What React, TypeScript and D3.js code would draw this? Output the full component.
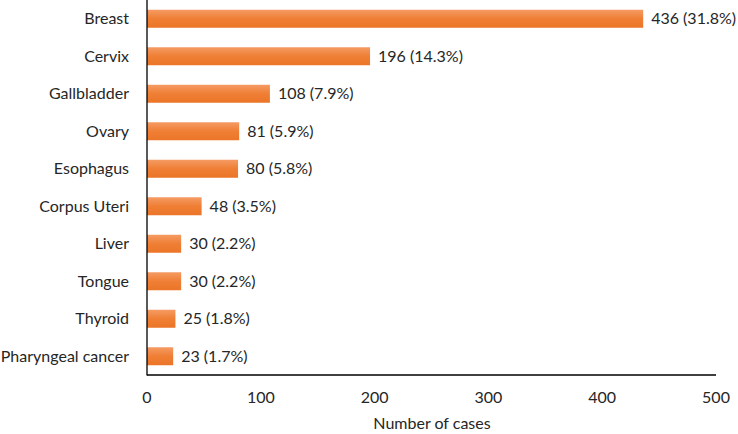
import React from "react";
import * as d3 from "d3";

const categories = ["Breast", "Cervix", "Gallbladder", "Ovary", "Esophagus", "Corpus Uteri", "Liver", "Tongue", "Thyroid", "Pharyngeal cancer"];
const cases = [436, 196, 108, 81, 80, 48, 30, 30, 25, 23];
const percents = ["31.8%", "14.3%", "7.9%", "5.9%", "5.8%", "3.5%", "2.2%", "2.2%", "1.8%", "1.7%"];
const xTicks = [0, 100, 200, 300, 400, 500];

const W = 738;
const H = 434;
const FONT = "Lato, 'Open Sans', sans-serif";
const FS = 16;

export default function App() {
  const x = d3.scaleLinear().domain([0, 500]).range([147, 716]);
  const y = d3.scaleBand<string>().domain(categories).range([0, 375]).paddingInner(0.52).paddingOuter(0.26);
  return (
    <svg width={W} height={H} style={{ position: "absolute", left: 0, top: 0, background: "#fff" }}>
      <defs>
        <linearGradient id="barGrad" x1="0" y1="0" x2="0" y2="1">
          <stop offset="0" stopColor="#F59B63" />
          <stop offset="0.5" stopColor="#EF7F35" />
          <stop offset="1" stopColor="#EB7528" />
        </linearGradient>
      </defs>
      {categories.map((c, i) => {
        const yy = y(c)!;
        return (
          <g key={c}>
            <rect x={x(0)} y={yy} width={x(cases[i]) - x(0)} height={y.bandwidth()} fill="url(#barGrad)" />
            <text x={x(cases[i]) + 8} y={yy + y.bandwidth() / 2} dy="0.35em" fontFamily={FONT} fontSize={FS} fill="#262626">
              {`${cases[i]} (${percents[i]})`}
            </text>
            <text x={129} y={yy + y.bandwidth() / 2} dy="0.35em" textAnchor="end" fontFamily={FONT} fontSize={FS} fill="#262626">
              {c}
            </text>
          </g>
        );
      })}
      <line x1={x(0)} x2={x(0)} y1={0} y2={375.5} stroke="#000" strokeWidth={1.3} />
      <line x1={x(0)} x2={x(500)} y1={375} y2={375} stroke="#000" strokeWidth={1.3} />
      {xTicks.map((t) => (
        <text key={t} x={x(t)} y={397} dy="0.35em" textAnchor="middle" fontFamily={FONT} fontSize={FS} fill="#262626">
          {t}
        </text>
      ))}
      <text x={432} y={423} dy="0.35em" textAnchor="middle" fontFamily={FONT} fontSize={FS} fill="#262626">
        Number of cases
      </text>
    </svg>
  );
}
